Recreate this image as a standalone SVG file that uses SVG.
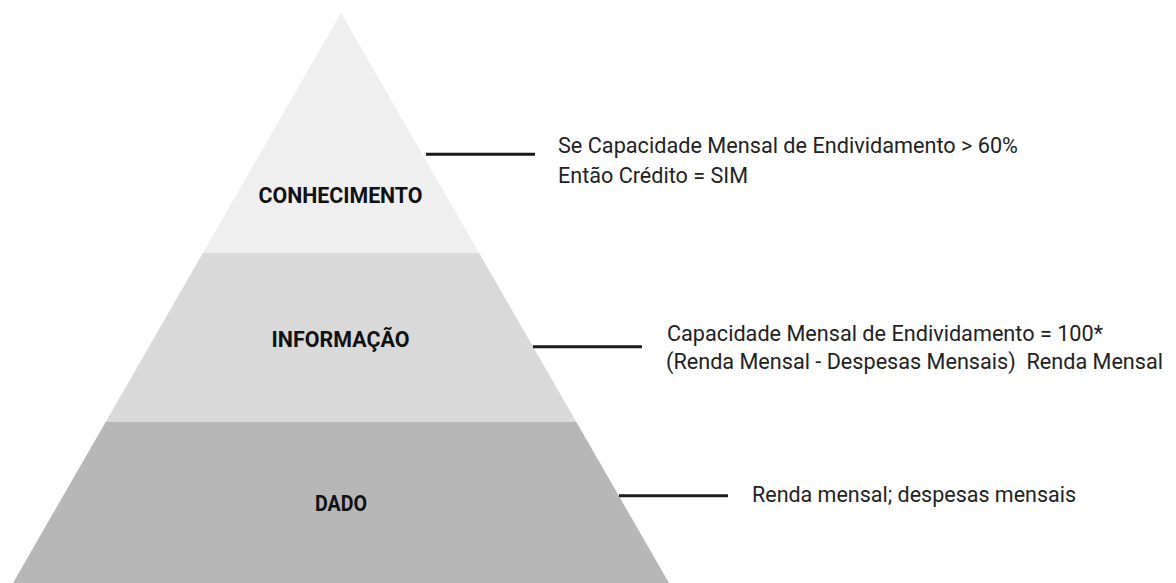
<svg xmlns="http://www.w3.org/2000/svg" width="1176" height="583" viewBox="0 0 1176 583">
  <style>
    .lbl { font-family: Roboto, "Liberation Sans", sans-serif; font-weight: bold; font-size: 22.5px; fill: #111111; text-anchor: middle; }
    .txt { font-family: Roboto, "Liberation Sans", sans-serif; font-size: 21.5px; fill: #222222; }
    .conn { stroke: #1a1a1a; stroke-width: 3; fill: none; }
  </style>
  <rect x="0" y="0" width="1176" height="583" fill="#ffffff"/>
  <g id="conhecimento">
    <polygon points="341,13 479.1,253 202.9,253" fill="#efefef"/>
    <text class="lbl" x="340.5" y="203" textLength="164" lengthAdjust="spacingAndGlyphs">CONHECIMENTO</text>
  </g>
  <g id="informacao">
    <polygon points="202.9,253 479.1,253 576.2,421.7 105.8,421.7" fill="#d9d9d9"/>
    <text class="lbl" x="340.5" y="347" textLength="138" lengthAdjust="spacingAndGlyphs">INFORMAÇÃO</text>
  </g>
  <g id="dado">
    <polygon points="105.8,421.7 576.2,421.7 669,583 13,583" fill="#b7b7b7"/>
    <text class="lbl" x="341" y="511" textLength="52" lengthAdjust="spacingAndGlyphs">DADO</text>
  </g>
  <g id="connectors">
    <line class="conn" x1="426" y1="154.3" x2="535" y2="154.3"/>
    <line class="conn" x1="533" y1="346.7" x2="642" y2="346.7"/>
    <line class="conn" x1="619" y1="495.7" x2="728" y2="495.7"/>
  </g>
  <g id="nota-conhecimento">
    <text class="txt" x="558" y="153" textLength="460" lengthAdjust="spacingAndGlyphs">Se Capacidade Mensal de Endividamento &gt; 60%</text>
    <text class="txt" x="558" y="183" textLength="190" lengthAdjust="spacingAndGlyphs">Então Crédito = SIM</text>
  </g>
  <g id="nota-informacao">
    <text class="txt" x="667" y="340.5" textLength="436" lengthAdjust="spacingAndGlyphs">Capacidade Mensal de Endividamento = 100*</text>
    <text class="txt" x="666" y="369" textLength="497" lengthAdjust="spacingAndGlyphs" xml:space="preserve">(Renda Mensal - Despesas Mensais)  Renda Mensal</text>
  </g>
  <g id="nota-dado">
    <text class="txt" x="752" y="502" textLength="324" lengthAdjust="spacingAndGlyphs">Renda mensal; despesas mensais</text>
  </g>
</svg>
